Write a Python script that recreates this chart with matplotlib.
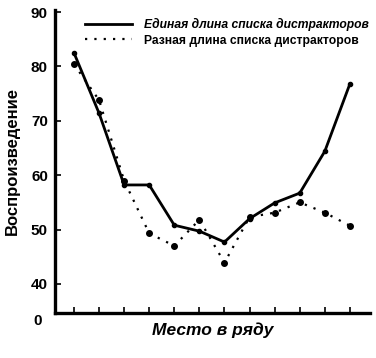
import matplotlib
matplotlib.use('Agg')
import matplotlib.pyplot as plt

plt.rcParams['font.family'] = ['Liberation Sans', 'DejaVu Sans']
plt.rcParams['font.weight'] = 'bold'

# Data
positions = [1, 2, 3, 4, 5, 6, 7, 8, 9, 10, 11, 12]
same_length = [82.5, 71.4, 58.2, 58.2, 50.8, 49.7, 47.7, 52.0, 54.9, 56.7, 64.4, 76.8]
diff_length = [80.4, 73.8, 59.0, 49.3, 47.0, 51.8, 43.9, 52.3, 53.1, 55.0, 53.1, 50.7]
label_same = 'Единая длина списка дистракторов'
label_diff = 'Разная длина списка дистракторов'
ytick_vals = [40, 50, 60, 70, 80, 90]

fig = plt.figure(figsize=(3.76, 3.58), dpi=100)
ax = fig.add_axes([0.146, 0.126, 0.838, 0.846])

ax.plot(positions, same_length, color='black', lw=2.0, label=label_same)
ax.plot(positions, same_length, 'o', color='black', ms=3)
ax.plot(positions, diff_length, color='black', lw=1.6, ls=(0, (1, 3.2)), label=label_diff)
ax.plot(positions, diff_length, 'o', color='black', ms=4)

ax.set_xlim(0.24, 12.8)
ax.set_ylim(34.67, 90.37)

ax.set_xticks(positions)
ax.set_xticklabels([])
ax.set_yticks(ytick_vals)
ax.set_yticklabels([str(v) for v in ytick_vals], fontsize=11, fontweight='bold')
ax.tick_params(axis='both', direction='in', length=4, width=1.2, pad=5)
ax.text(-0.04, -0.005, '0', transform=ax.transAxes, fontsize=11, fontweight='bold',
        ha='right', va='top')

for side in ['top', 'right']:
    ax.spines[side].set_visible(False)
for side in ['left', 'bottom']:
    ax.spines[side].set_linewidth(2.4)

ax.set_ylabel('Воспроизведение', fontsize=12, fontweight='bold', labelpad=8)
ax.set_xlabel('Место в ряду', fontsize=12.5, fontweight='bold', style='italic', labelpad=2)

leg = ax.legend(loc='upper left', bbox_to_anchor=(0.08, 0.99), frameon=False,
                prop={'size': 8.7, 'weight': 'bold'}, handlelength=3.9,
                handletextpad=1.0, labelspacing=0.3, borderaxespad=0)
leg.get_texts()[0].set_style('italic')

fig.savefig('out.png', dpi=100)
